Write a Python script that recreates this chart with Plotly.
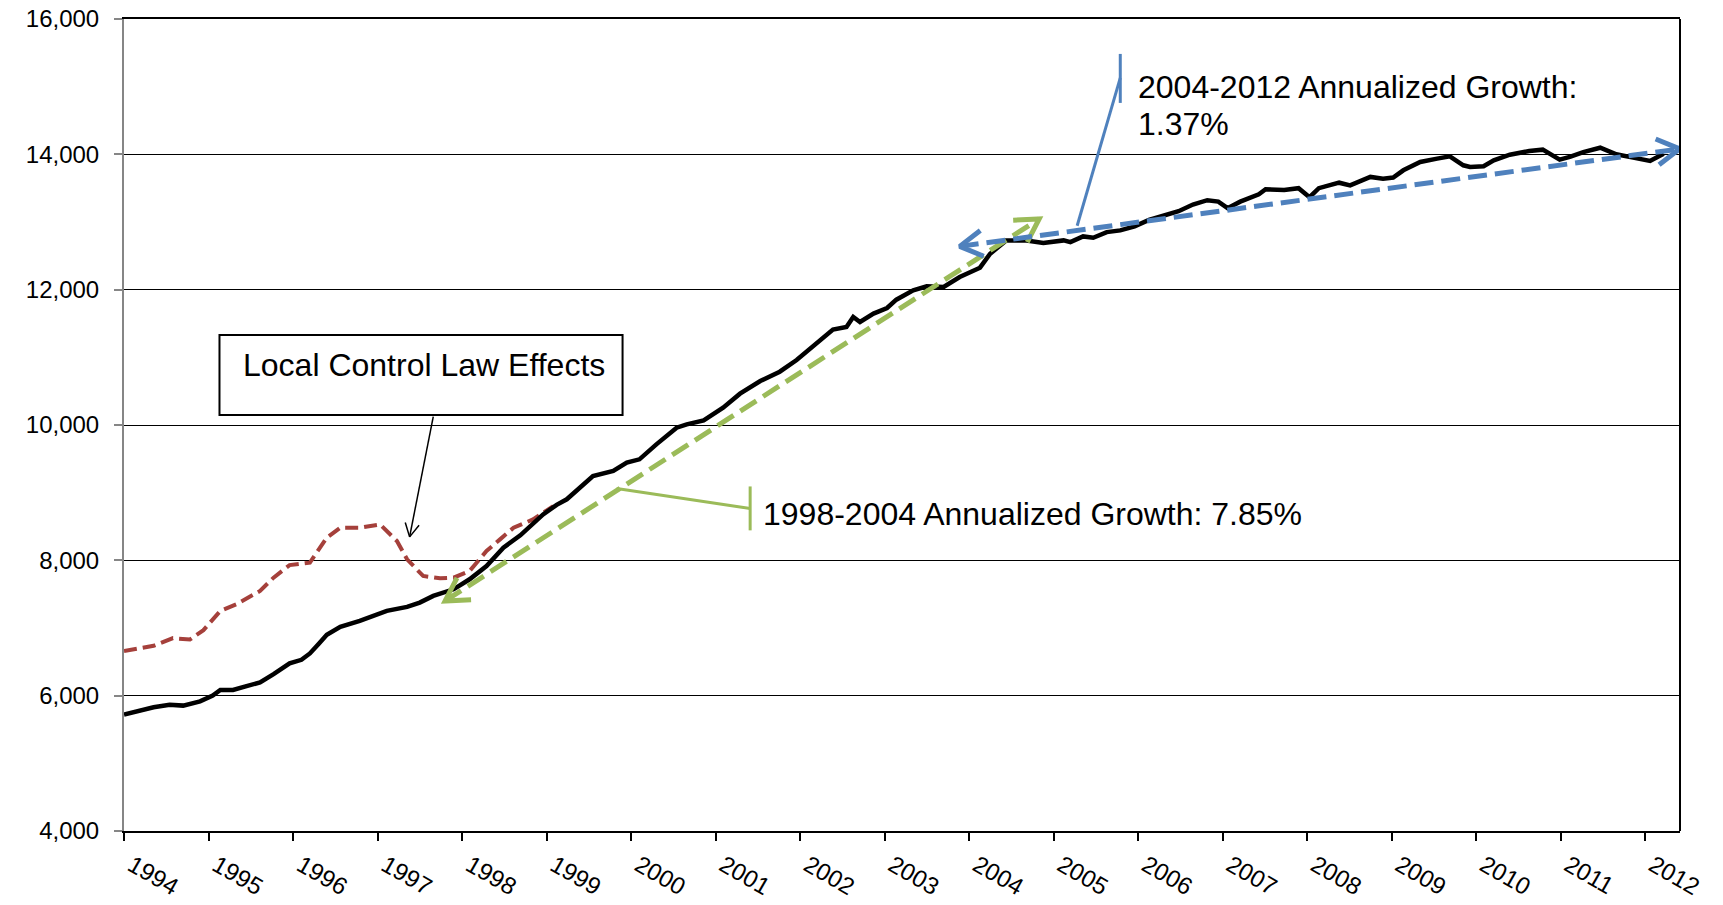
import math
import plotly.graph_objects as go

# ---------------- data ----------------
black_years = [1994.00, 1994.20, 1994.35, 1994.54, 1994.70, 1994.90, 1995.05, 1995.14, 1995.29,
               1995.45, 1995.61, 1995.77, 1995.96, 1996.10, 1996.20, 1996.30, 1996.40, 1996.56,
               1996.79, 1997.11, 1997.35, 1997.50, 1997.66, 1997.90, 1998.09, 1998.29, 1998.49,
               1998.69, 1998.96, 1999.12, 1999.24, 1999.55, 1999.79, 1999.95, 2000.10, 2000.30,
               2000.54, 2000.66, 2000.86, 2001.09, 2001.29, 2001.53, 2001.76, 2001.96, 2002.16,
               2002.39, 2002.55, 2002.63, 2002.71, 2002.87, 2003.03, 2003.14, 2003.34, 2003.50,
               2003.70, 2003.89, 2004.13, 2004.25, 2004.44, 2004.68, 2004.88, 2005.12, 2005.20,
               2005.35, 2005.47, 2005.63, 2005.79, 2005.96, 2006.13, 2006.35, 2006.48, 2006.65,
               2006.82, 2006.95, 2007.06, 2007.21, 2007.43, 2007.51, 2007.73, 2007.90, 2008.03,
               2008.14, 2008.38, 2008.51, 2008.75, 2008.90, 2009.02, 2009.14, 2009.34, 2009.54,
               2009.69, 2009.85, 2009.93, 2010.09, 2010.21, 2010.40, 2010.63, 2010.79, 2010.91,
               2010.99, 2011.11, 2011.27, 2011.47, 2011.66, 2011.86, 2012.06, 2012.22]
black_values = [5720, 5790, 5828, 5867, 5853, 5916, 6000, 6084, 6084,
                6140, 6197, 6319, 6477, 6530, 6624, 6760, 6899, 7017,
                7106, 7253, 7312, 7376, 7474, 7572, 7720, 7916, 8187,
                8370, 8678, 8820, 8902, 9246, 9320, 9443, 9493, 9714,
                9961, 10010, 10069, 10256, 10463, 10650, 10788, 10960, 11178,
                11410, 11449, 11597, 11523, 11646, 11729, 11852, 11990, 12049,
                12039, 12187, 12325, 12531, 12728, 12728, 12689, 12728, 12703,
                12787, 12767, 12851, 12876, 12935, 13030, 13120, 13160, 13258,
                13322, 13301, 13204, 13301, 13409, 13484, 13473, 13500, 13366,
                13500, 13581, 13542, 13666, 13641, 13656, 13764, 13887, 13936,
                13970, 13838, 13813, 13823, 13911, 13995, 14049, 14069, 13985,
                13921, 13961, 14034, 14098, 14000, 13951, 13902, 14010]

red_years = [1994.00, 1994.35, 1994.58, 1994.78, 1994.94, 1995.14, 1995.33, 1995.61, 1995.77,
             1995.96, 1996.20, 1996.40, 1996.56, 1996.79, 1997.03, 1997.23, 1997.35, 1997.54,
             1997.74, 1997.90, 1998.09, 1998.29, 1998.45, 1998.61, 1998.84, 1999.08]
red_values = [6660, 6737, 6850, 6830, 6968, 7253, 7351, 7548, 7744,
              7930, 7966, 8334, 8482, 8482, 8531, 8285, 8015, 7769,
              7735, 7744, 7843, 8138, 8310, 8482, 8604, 8801]

green_trend_years = [1997.80, 2004.83]
green_trend_values = [7400, 13045]
blue_trend_years = [2003.89, 2012.41]
blue_trend_values = [12640, 14080]

year_ticks = list(range(1994, 2013))
value_ticks = [4000, 6000, 8000, 10000, 12000, 14000, 16000]

green_label = "1998-2004 Annualized Growth: 7.85%"
blue_label_1 = "2004-2012 Annualized Growth:"
blue_label_2 = "1.37%"
box_label = "Local Control Law Effects"

# ---------------- layout constants ----------------
W, H = 1723, 905
MARGIN = dict(l=124, r=43, t=19, b=74)
X_RANGE = [1994, 2012.414]
Y_RANGE = [4000, 16000]
PX_X = (W - MARGIN["l"] - MARGIN["r"]) / (X_RANGE[1] - X_RANGE[0])
PX_Y = (H - MARGIN["t"] - MARGIN["b"]) / (Y_RANGE[1] - Y_RANGE[0])

FONT = "Liberation Sans, Arial, sans-serif"
BLACK = "#000000"
RED = "#A5403B"
GREEN = "#9BBB59"
BLUE = "#4F81BD"
GRAY = "#868686"


def chevron(x_tip, y_tip, x_from, y_from, arm_px, half_deg):
    dx = (x_from - x_tip) * PX_X
    dy = (y_from - y_tip) * PX_Y
    ang = math.atan2(dy, dx)
    xs, ys = [], []
    for s in (1, -1):
        a = ang + s * math.radians(half_deg)
        xs.append(x_tip + arm_px * math.cos(a) / PX_X)
        ys.append(y_tip + arm_px * math.sin(a) / PX_Y)
    return [xs[0], x_tip, xs[1]], [ys[0], y_tip, ys[1]]


fig = go.Figure()

# red dashed series
fig.add_trace(go.Scatter(x=red_years, y=red_values, mode="lines",
                         line=dict(color=RED, width=4, dash="13px,6px"), hoverinfo="skip"))
# black series
fig.add_trace(go.Scatter(x=black_years, y=black_values, mode="lines",
                         line=dict(color=BLACK, width=4.5), hoverinfo="skip"))


def trend_arrow(xs, ys, color):
    fig.add_trace(go.Scatter(x=xs, y=ys, mode="lines",
                             line=dict(color=color, width=5, dash="19px,8px"), hoverinfo="skip"))
    for i, j in ((0, 1), (1, 0)):
        cx, cy = chevron(xs[i], ys[i], xs[j], ys[j], 26, 30)
        fig.add_trace(go.Scatter(x=cx, y=cy, mode="lines",
                                 line=dict(color=color, width=5), hoverinfo="skip"))


trend_arrow(green_trend_years, green_trend_values, GREEN)
trend_arrow(blue_trend_years, blue_trend_values, BLUE)

# green callout
fig.add_trace(go.Scatter(x=[1999.83, 2001.41], y=[9063, 8767], mode="lines",
                         line=dict(color=GREEN, width=3), hoverinfo="skip"))
fig.add_trace(go.Scatter(x=[2001.41, 2001.41], y=[9092, 8443], mode="lines",
                         line=dict(color=GREEN, width=3), hoverinfo="skip"))
# blue callout
fig.add_trace(go.Scatter(x=[2005.28, 2005.79], y=[12945, 15129], mode="lines",
                         line=dict(color=BLUE, width=3), hoverinfo="skip"))
fig.add_trace(go.Scatter(x=[2005.79, 2005.79], y=[15484, 14760], mode="lines",
                         line=dict(color=BLUE, width=3), hoverinfo="skip"))

# thin black arrow from the text box
tail = (1997.66, 10125)
head = (1997.38, 8347)
fig.add_trace(go.Scatter(x=[tail[0], head[0]], y=[tail[1], head[1]], mode="lines",
                         line=dict(color=BLACK, width=1.5), hoverinfo="skip"))
cx, cy = chevron(head[0], head[1], tail[0], tail[1], 15, 28)
fig.add_trace(go.Scatter(x=cx, y=cy, mode="lines",
                         line=dict(color=BLACK, width=1.5), hoverinfo="skip"))

shapes = [
    dict(type="rect", xref="x", yref="y", x0=1995.13, x1=1999.90, y0=10148, y1=11329,
         line=dict(color=BLACK, width=2), fillcolor="white", layer="above"),
    dict(type="line", xref="paper", yref="paper", x0=1, x1=1, y0=0, y1=1,
         line=dict(color=BLACK, width=2)),
]

annotations = [
    dict(x=1995.38, y=10882, xref="x", yref="y", text=box_label, showarrow=False,
         xanchor="left", yanchor="middle", font=dict(family=FONT, size=32, color=BLACK)),
    dict(x=2001.54, y=8679, xref="x", yref="y", text=green_label, showarrow=False,
         xanchor="left", yanchor="middle", font=dict(family=FONT, size=32, color=BLACK)),
    dict(x=2005.98, y=14996, xref="x", yref="y", text=blue_label_1, showarrow=False,
         xanchor="left", yanchor="middle", font=dict(family=FONT, size=32, color=BLACK)),
    dict(x=2005.98, y=14450, xref="x", yref="y", text=blue_label_2, showarrow=False,
         xanchor="left", yanchor="middle", font=dict(family=FONT, size=32, color=BLACK)),
]

fig.update_layout(
    width=W, height=H, margin=MARGIN,
    paper_bgcolor="white", plot_bgcolor="white",
    showlegend=False, hovermode=False,
    shapes=shapes, annotations=annotations,
    font=dict(family=FONT, color=BLACK),
    xaxis=dict(range=X_RANGE, tickvals=year_ticks, ticktext=[str(y) for y in year_ticks],
               tickangle=30, tickfont=dict(family=FONT, size=24, color=BLACK),
               automargin=False, ticklabelshift=8, ticklabelstandoff=1,
               showgrid=False, zeroline=False, showline=True, linecolor=BLACK, linewidth=2,
               mirror=True, ticks="outside", ticklen=8, tickwidth=1.5, tickcolor=BLACK),
    yaxis=dict(range=Y_RANGE, tickvals=value_ticks, ticktext=[f"{v:,}" for v in value_ticks],
               tickfont=dict(family=FONT, size=24, color=BLACK), automargin=False,
               showgrid=True, gridcolor=BLACK, gridwidth=1.2, zeroline=False,
               showline=True, linecolor=GRAY, linewidth=2,
               ticks="outside", ticklen=8, tickwidth=1.5, tickcolor=GRAY,
               ticklabelstandoff=10),
)

fig.write_html("out.html", config={"displayModeBar": False},
               post_script="document.body.style.margin='0';document.body.style.overflow='hidden';")
